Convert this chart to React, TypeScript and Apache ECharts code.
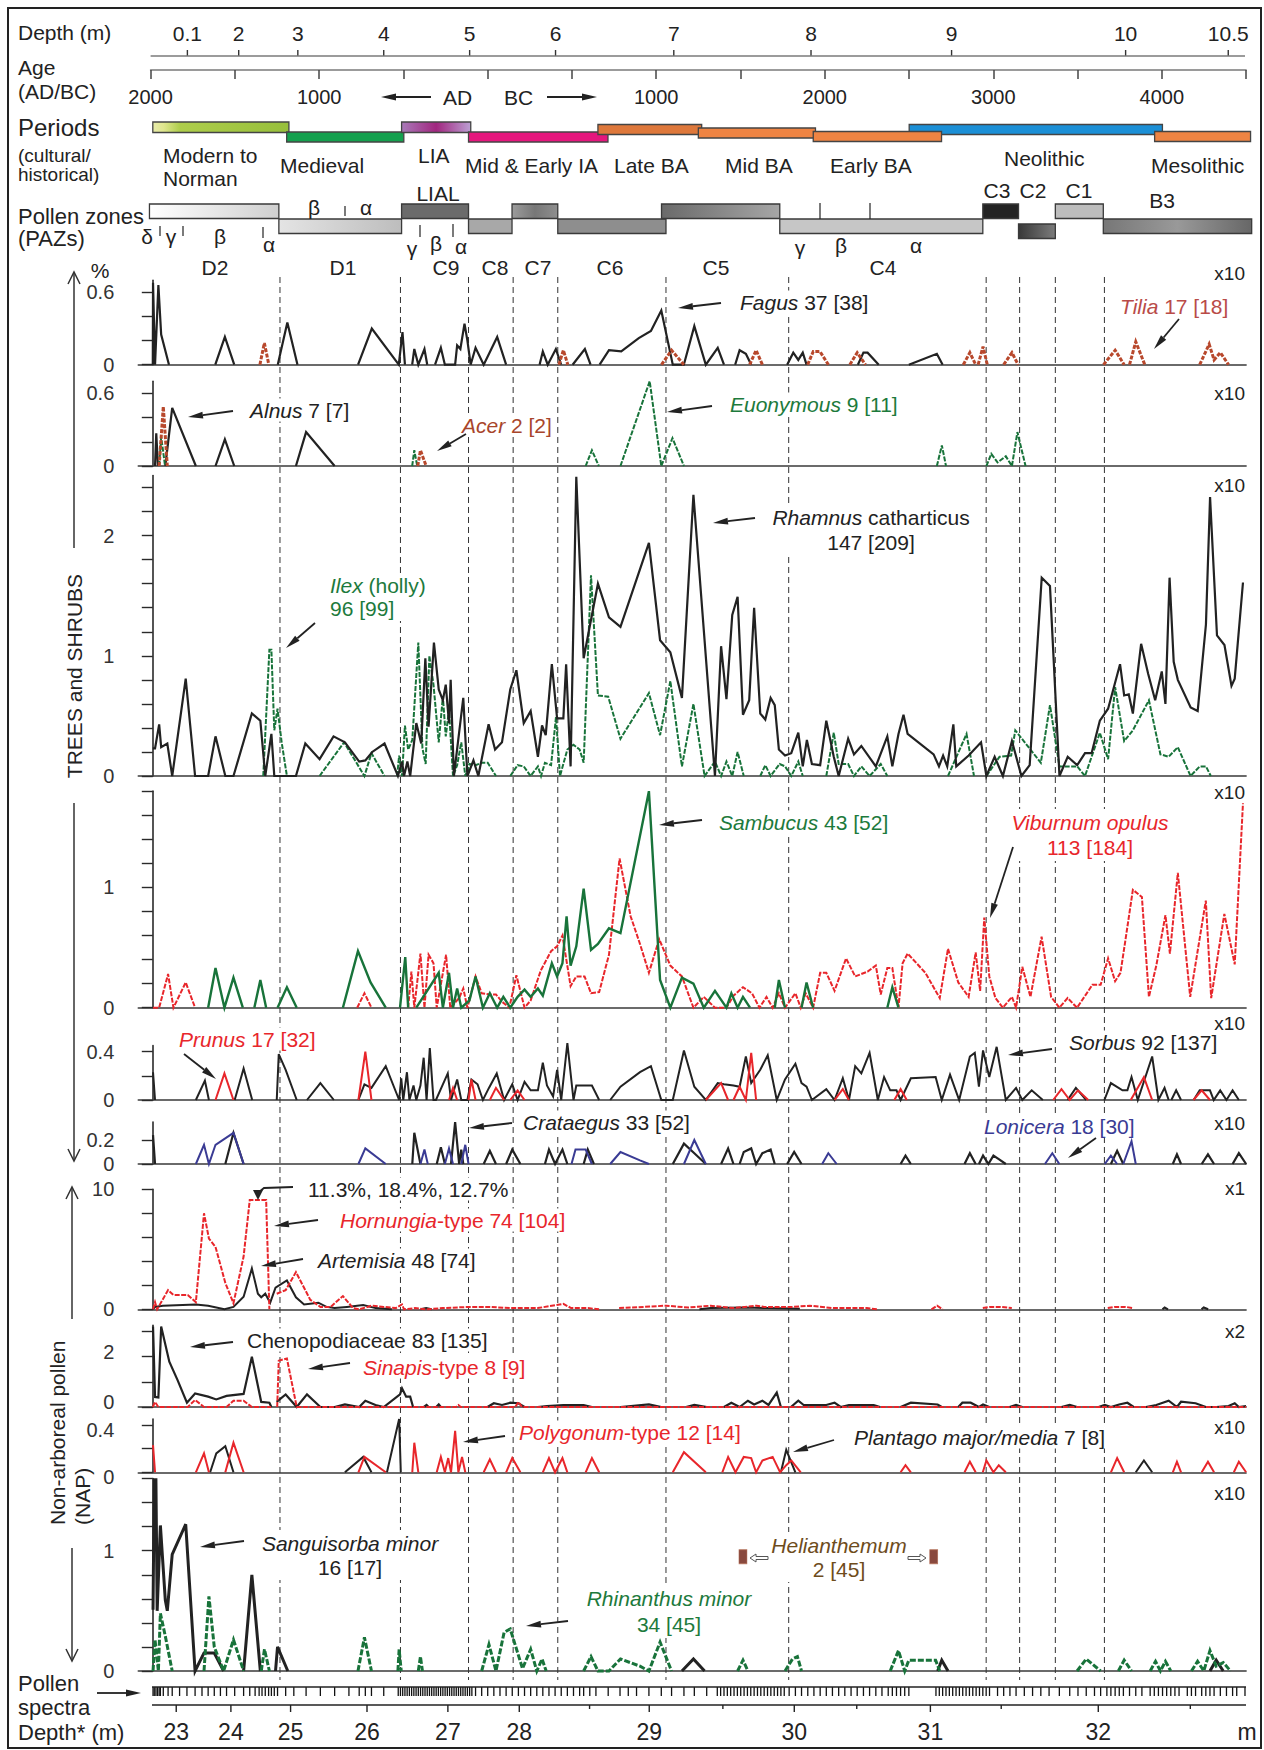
import React, { useEffect, useRef } from 'react';
import * as echarts from 'echarts';

type Pt = [number, number];
type Seg = Pt[];

const FONT = "'Liberation Sans', Arial, Helvetica, sans-serif";
const BLACK = '#222222';
const GREEN = '#18733a';
const GREEN_T = '#1d7a3c';
const RED = '#e8262b';
const BROWN = '#b8482c';
const BLUE = '#3a3b94';

// ---------------- DATA ----------------
// x values are positions along the (non-linear) Depth* axis of the diagram
const zoneBoundaries = [114, 222, 283, 323, 363, 460, 570, 747, 777, 809, 853];
const zoneNames = ['D2', 'D1', 'C9', 'C8', 'C7', 'C6', 'C5', 'C4', 'C3', 'C2', 'C1', 'B3'];
const zoneStart = [-3, 113, 223, 283, 322, 363, 456, 562, 744, 776, 809, 852];
const zoneEnd = [113, 223, 283, 322, 363, 460, 562, 744, 776, 809, 852, 985];

const periodNames = ['Modern to Norman', 'Medieval', 'LIA', 'Mid & Early IA', 'Late BA', 'Mid BA', 'Neolithic', 'Early BA', 'Mesolithic'];
const periodStart = [0, 120, 223, 283, 399, 489, 678, 592, 898];
const periodEnd = [122, 225, 285, 408, 492, 594, 905, 707, 984];

const topDepthLabels = ['0.1', '2', '3', '4', '5', '6', '7', '8', '9', '10', '10.5'];
const topDepthPos = [31, 77, 130, 207, 284, 361, 467, 590, 716, 872, 964];

const depthStarValues = [23, 24, 25, 26, 27, 28, 28.5, 29, 29.5, 30, 30.5, 31, 31.5, 32, 32.5];
const depthStarPos = [21, 70, 123.5, 192, 264.5, 328.5, 391.5, 445, 511, 575, 631, 697, 760.5, 847.5, 930];

const spectraPos = [
  0.2, 1.3, 2.8, 4.2, 5.7, 6.8, 9.4, 13.7, 17.4, 24, 30.6, 37.9, 44.1, 49.6, 55.1, 60.6, 66.1, 73.4, 81.4, 86.9,
  91.7, 95.3, 97.9, 100.8, 103.8, 106.3, 108.9, 111.8, 119.1, 126.4, 137.4, 150.2, 163, 175.8, 185, 190.5, 196, 207,
  220, 222, 224, 226, 228, 230, 232, 234, 236, 238, 240, 242, 244, 246, 248, 250, 252, 254, 256, 258, 260, 262, 264,
  266, 268, 270, 272, 274, 276, 278, 280, 282, 284, 286, 289.3, 294.8, 300.2, 305.7, 311.2, 316.7, 322.2, 327.7, 333.2,
  338.7, 344.2, 349.6, 355.1, 360.6, 366.1, 371.6, 377.1, 382.6, 386.2, 391.7, 397.2, 408.2, 418.8, 426.2, 433.6, 444.7,
  455.8, 465, 476.1, 485.4, 496.5, 506, 509, 512, 515, 518, 521, 524, 527, 530, 533, 536, 539, 542, 545, 548, 551, 554,
  557, 560, 563, 566, 570.4, 576, 581.5, 587.1, 592.6, 598.2, 603.7, 609.2, 614.8, 620.3, 625.9, 631.4, 637, 642.5,
  648.1, 653.6, 659.2, 662.9, 666.6, 670.3, 674, 677.7, 702, 705, 708, 711, 714, 717, 720, 723, 726, 729, 732, 735, 738,
  741, 744, 747, 750, 757.2, 762.7, 768.3, 773.8, 781.2, 788.6, 796, 803.4, 812.6, 821.9, 829.3, 836.7, 844.1, 849.6,
  855.2, 858.8, 862.6, 866.3, 870, 875.5, 881.1, 886.6, 894, 897.7, 901.4, 905.1, 908.8, 912.5, 916.2, 919.9, 927.3,
  931, 934.7, 940.2, 943.9, 947.6, 951.3, 956.9, 962.4, 967.9, 971.6, 979,
];

// Panel 1
const fagus: Seg[] = [
  [[0, 0], [0.2, 0.68], [2, 0], [5, 0.66], [7.5, 0.25], [14.5, 0]],
  [[56, 0], [64.6, 0.23], [73, 0]],
  [[112, 0], [120.6, 0.35], [129.7, 0]],
  [[184, 0], [196.3, 0.3], [220.5, 0], [223.8, 0.27], [226, 0]],
  [[232.5, 0], [234.4, 0.13], [238, 0], [243.5, 0.13], [246, 0]],
  [[253, 0], [258.2, 0.14], [261.8, 0], [271, 0], [272.8, 0.16], [275.7, 0.13], [279.4, 0.34], [282, 0.2], [284.9, 0], [289.3, 0.14], [296.6, 0], [308.7, 0.23], [316.7, 0]],
  [[346.7, 0], [349.6, 0.11], [354, 0], [361.3, 0.13], [366, 0]],
  [[376.3, 0], [387.3, 0.13], [392.4, 0]],
  [[400.5, 0], [408.9, 0.12], [419.9, 0.11], [435.6, 0.22], [446.5, 0.28], [455.8, 0.45], [466.1, 0], [476, 0], [485.4, 0.32], [495.7, 0], [506.4, 0.14], [512, 0]],
  [[522, 0], [526, 0.12], [531.6, 0.09], [536.4, 0]],
  [[568.6, 0], [574.1, 0.1], [578.6, 0.04], [582.6, 0.1], [586, 0]],
  [[632, 0], [637, 0.1], [640.7, 0.1], [650.7, 0]],
  [[677.7, 0], [702.8, 0.09], [708, 0]],
];
const tilia: Seg[] = [
  [[96, 0], [100, 0.18], [104, 0]],
  [[364, 0], [368, 0.12], [372, 0]],
  [[456, 0], [465, 0.12], [476, 0]],
  [[535, 0], [540.8, 0.12], [546.4, 0]],
  [[587, 0], [592, 0.11], [598, 0.11], [605.6, 0]],
  [[624.8, 0], [631.4, 0.1], [638.8, 0]],
  [[726.5, 0], [732.4, 0.1], [737.6, 0]],
  [[739.8, 0], [744.2, 0.15], [748, 0]],
  [[762.7, 0], [770.1, 0.1], [775.7, 0]],
  [[852.2, 0], [862.6, 0.12], [870.7, 0]],
  [[875.5, 0], [881.1, 0.19], [889.2, 0]],
  [[938.4, 0], [946.9, 0.17], [951.3, 0.04], [956.9, 0.1], [964.3, 0]],
];
// Panel 2
const alnus: Seg[] = [
  [[2, 0], [3.1, 0.27], [4.6, 0]],
  [[11.2, 0], [17.4, 0.48], [38.6, 0]],
  [[56.2, 0], [64.6, 0.22], [73, 0]],
  [[128.3, 0], [137.4, 0.28], [163, 0]],
];
const acer: Seg[] = [
  [[5.7, 0], [9.4, 0.49], [13, 0]],
  [[237.5, 0], [239.9, 0.13], [245, 0]],
];
const euonymous: Seg[] = [
  [[5.7, 0], [7.5, 0.24], [11, 0]],
  [[232.5, 0], [234.4, 0.13], [237, 0]],
  [[388, 0], [393.6, 0.13], [399.8, 0]],
  [[419.2, 0], [445.4, 0.7], [455.8, 0], [465.8, 0.23], [476.1, 0]],
  [[702.8, 0], [707.3, 0.17], [711, 0]],
  [[747.2, 0], [751.6, 0.1], [757.2, 0.03], [764.6, 0.08], [770.1, 0], [775, 0.28], [782.3, 0]],
];
// Panel 3
const rhamnus: Seg[] = [[
  [0, 0.23], [2, 0.23], [5.7, 0.43], [7.5, 0.24], [13, 0.27], [17.4, 0], [29.5, 0.81], [37.9, 0], [49.6, 0], [56.2, 0.33],
  [65, 0], [72.3, 0], [88.8, 0.52], [96.4, 0.46], [100.8, 0], [106.3, 0.35], [108.9, 0], [128.3, 0], [136.7, 0.27],
  [149.5, 0.14], [162, 0.33], [172.2, 0.28], [185, 0.12], [190.5, 0.13], [196.7, 0.2], [207.7, 0.27], [219.7, 0],
  [223.4, 0.12], [225.2, 0], [228.2, 0.12], [230.7, 0], [236.2, 0.44], [240.6, 0.27], [244.3, 0.98], [247.2, 0.41],
  [252, 1.11], [256.3, 0.72], [260, 0.63], [262.6, 0.76], [265.5, 0.44], [267, 0.8], [269.9, 0], [278.3, 0.65], [282, 0],
  [287.4, 0.13], [291.8, 0], [301, 0.43], [306.8, 0.22], [313, 0.28], [320.4, 0.72], [325.9, 0.88], [332.5, 0.44],
  [338.7, 0.54], [345.2, 0.16], [348.9, 0.42], [352.2, 0.34], [357.7, 0.93], [362.4, 0.48], [368, 0.48], [370.5, 0.93],
  [374.5, 0.08], [379.6, 2.49], [386.2, 0.98], [399, 1.6], [408.9, 1.32], [419.2, 1.24], [444.7, 1.94], [454.7, 1.13],
  [463.9, 1.03], [474.3, 0.65], [484.6, 2.34], [503.9, 0], [509.4, 1.08], [514.2, 0.64], [519.4, 1.34], [524.2, 1.49],
  [529, 0.51], [534.6, 0.63], [539, 1.4], [544.5, 0.52], [549, 0.47], [553.8, 0.65], [557.5, 0.59], [561.2, 0.22],
  [566.7, 0.17], [572.3, 0.19], [578.6, 0.36], [582.6, 0.08], [586.3, 0.3], [590.8, 0.1], [598.2, 0.09], [603.7, 0.46],
  [610.4, 0.16], [614.8, 0], [623.3, 0.31], [628.5, 0.18], [635.1, 0.25], [648.1, 0.08], [658.4, 0.33], [662.9, 0.08],
  [668.4, 0.35], [672.9, 0.51], [676.6, 0.35], [699.9, 0.18], [704.7, 0.08], [708.4, 0.17], [712.1, 0.08], [717.6, 0.43],
  [720.2, 0.08], [731.3, 0.17], [742.4, 0.28], [747.2, 0], [754.6, 0.16], [762, 0], [770.1, 0.29], [778.6, 0], [786, 0.09],
  [796.8, 1.65], [804.2, 1.58], [812.7, 0], [820.1, 0.16], [828.6, 0.09], [835.6, 0.19], [841.5, 0.19], [848.9, 0.46],
  [856.3, 0.56], [867, 0.93], [870.7, 0.67], [874.8, 0.68], [878.5, 0.52], [885.9, 1.1], [892.2, 0.85], [898.5, 0.63],
  [904.4, 0.87], [907.7, 0.6], [911.4, 1.65], [915.1, 0.95], [918.8, 0.8], [930.3, 0.57], [936.6, 0.54], [944, 1.26],
  [947.7, 2.32], [953.9, 1.17], [960.6, 1.09], [966.9, 0.75], [969.8, 0.81], [977.2, 1.61],
]];
const ilex: Seg[] = [
  [[99, 0], [104.5, 1.05], [106.3, 1.05], [108.9, 0.38], [111.8, 0.56], [115.5, 0.28], [120.2, 0]],
  [[149.5, 0], [171.5, 0.28], [189.7, 0], [196, 0.19], [207.7, 0]],
  [[219, 0], [220.8, 0.17], [223.4, 0], [226, 0.42], [228.9, 0.22], [232.6, 0.3], [238, 1.11], [241.7, 0.23], [244.6, 0.1],
    [247.9, 1.0], [251.6, 0.76], [256.3, 0.28], [260, 0.66], [262.6, 0.33], [265.5, 0.55], [269.1, 0], [272.8, 0.09],
    [276.5, 0.28], [280.1, 0], [283.8, 0.1], [289.3, 0.09], [294.8, 0.11], [300.2, 0.11], [307.6, 0]],
  [[320.4, 0], [327, 0.09], [332.5, 0.08], [338.7, 0], [345.2, 0.08], [348, 0], [351.5, 0.11], [357, 0.09], [361.4, 0.49],
    [365, 0], [371.6, 0.22], [377.1, 0.26], [382.6, 0.22], [386.2, 0.11], [392.8, 1.67], [399, 0.67], [408.2, 0.66],
    [419.2, 0.31], [444.7, 0.69], [454.7, 0.34], [463.9, 0.79], [474.3, 0.08], [484.6, 0.6], [494.6, 0], [503.9, 0.12],
    [509.4, 0], [514.2, 0.12], [519.4, 0], [524.2, 0.2], [529.7, 0]],
  [[544.5, 0], [549, 0.09], [553.8, 0], [561.9, 0.1], [566.7, 0.08], [572.3, 0], [578.6, 0.12], [582.6, 0]],
  [[603.7, 0], [610.4, 0.36], [614.8, 0.1], [623.3, 0.1], [628.5, 0], [635.1, 0.08], [642.5, 0], [652.5, 0.1], [658.4, 0]],
  [[712.8, 0], [729.4, 0.35], [736.1, 0]],
  [[747.2, 0], [759, 0.16], [769.4, 0.17], [773.1, 0.38], [796, 0.11], [804.2, 0.59], [812.7, 0.08], [828.6, 0.08],
    [835.6, 0], [848.9, 0.36], [856.3, 0.14], [862.6, 0.74], [870.7, 0.29], [878.5, 0.38], [892.9, 0.63], [903.2, 0.18],
    [910.6, 0.16], [918.8, 0.24], [930.2, 0], [938.4, 0.08], [944, 0.08], [948.4, 0]],
];
// Panel 4
const viburnum: Seg[] = [
  [[0.2, 0], [5.7, 0], [13.7, 0.28], [18.5, 0], [29.5, 0.21], [37.9, 0]],
  [[183.2, 0], [189.7, 0.12], [196, 0]],
  [[228.9, 0], [231.8, 0.3], [234.4, 0], [239.9, 0.45], [243.5, 0], [247.2, 0.44], [251.6, 0.37], [254.5, 0], [262.9, 0.44],
    [266.6, 0], [274.6, 0.08], [278.3, 0.16], [282, 0], [289.3, 0.26], [294.8, 0.12], [302.1, 0.11], [307.6, 0.11],
    [313, 0.05], [319.6, 0], [325.9, 0.27], [333.2, 0], [338.7, 0.06], [347.8, 0.31], [357, 0.47], [362.4, 0.51],
    [367.2, 0.6], [374.5, 0.18], [379.6, 0.26], [387, 0.26], [392.8, 0.12], [400.1, 0.13], [408.9, 0.44], [418.4, 1.24],
    [428.3, 0.76], [436.7, 0.53], [444.7, 0.29], [453.9, 0.57], [463.9, 0.35], [474.3, 0.26], [484.6, 0], [493.9, 0.09],
    [503.9, 0], [514.2, 0], [520.5, 0.1], [529, 0.17], [537.1, 0.12], [543.8, 0], [550.1, 0.09], [555.6, 0], [561.2, 0.12],
    [566.7, 0], [576, 0.12], [580.8, 0], [585.2, 0.12], [591.9, 0], [598.2, 0.29], [603.7, 0.29], [611.1, 0.14],
    [621.4, 0.41], [629.6, 0.26], [640.7, 0.3], [648.1, 0.35], [652.5, 0.11], [658.4, 0.33], [662.9, 0.33], [668.4, 0],
    [672.1, 0.37], [676.6, 0.45], [692.5, 0.29], [705.4, 0.08], [712.8, 0.49], [722, 0.21], [731.3, 0.09], [737.6, 0.46],
    [741.6, 0.14], [745.3, 0.75], [749.8, 0.26], [755.3, 0.08], [762, 0], [770.1, 0.09], [773.8, 0], [779.4, 0.34],
    [786.7, 0.09], [796.7, 0.59], [805.2, 0.09], [812.6, 0], [820, 0.08], [828.5, 0], [842.2, 0.19], [849.6, 0.19],
    [856.3, 0.41], [862.6, 0.22], [867.4, 0.29], [871.8, 0.56], [878.5, 0.98], [886.6, 0.92], [892.9, 0.09], [899.5, 0.35],
    [907.7, 0.77], [911.7, 0.45], [918.8, 1.12], [929.9, 0.09], [943.9, 0.89], [948.7, 0.08], [960.5, 0.78], [969.8, 0.36],
    [977.2, 1.7]],
];
const sambucus: Seg[] = [
  [[49.6, 0], [56.2, 0.33], [64.2, 0], [72.3, 0.25], [80.7, 0]],
  [[91, 0], [96.4, 0.23], [101.6, 0]],
  [[111.8, 0], [120.2, 0.17], [129, 0]],
  [[170.4, 0], [183.9, 0.47], [195.2, 0.21], [208.8, 0]],
  [[221.6, 0], [226.3, 0.42], [228.9, 0]],
  [[236.2, 0], [256.3, 0.29], [260, 0], [265.5, 0.29], [269.1, 0], [272.8, 0.16], [276.5, 0], [283.8, 0.06], [289.3, 0.26],
    [295.9, 0], [302.1, 0.12], [308.7, 0], [314.2, 0.09], [320.4, 0], [327, 0.09], [333.2, 0.15], [338.7, 0.09],
    [345.2, 0.16], [349.6, 0.1], [357.7, 0.37], [362.4, 0.26], [367.2, 0.37], [370.9, 0.76], [374.5, 0.35], [379.6, 0.51],
    [386.2, 0.99], [392.8, 0.48], [399, 0.53], [408.9, 0.66], [419.2, 0.62], [444.7, 1.8], [454.7, 0.23], [463.9, 0],
    [474.3, 0.25], [484.6, 0.2], [493.9, 0], [503.9, 0.14], [514.2, 0], [518.6, 0.12], [524.2, 0], [529, 0.09], [535.3, 0]],
  [[557.5, 0], [561.2, 0.23], [566.7, 0]],
  [[581.5, 0], [586, 0.21], [591.9, 0]],
  [[658.4, 0], [662.9, 0.17], [668.4, 0]],
];
// Panel 5
const sorbus: Seg[] = [
  [[0.2, 0.23], [2, 0]],
  [[38.6, 0], [46.7, 0.16], [50.3, 0]],
  [[73.4, 0], [81.4, 0.26], [89.1, 0]],
  [[111.1, 0], [112.9, 0.38], [119.1, 0.25], [129, 0]],
  [[138.2, 0], [150.2, 0.14], [162.3, 0]],
  [[184.3, 0], [189.7, 0.13], [196, 0.1], [208.8, 0.28], [220.8, 0], [222.7, 0.18], [224.5, 0], [227.8, 0.23], [230, 0],
    [233.7, 0.12], [236.2, 0], [239.9, 0.12], [242.8, 0.35], [245.4, 0], [248.3, 0.43], [251.6, 0], [253.8, 0],
    [264.4, 0.22], [267.3, 0], [272.8, 0.17], [276.5, 0], [282, 0], [285.6, 0.17], [291.1, 0.13], [295.9, 0], [301.3, 0.1],
    [308.3, 0.22], [314.9, 0], [322.2, 0.13], [327, 0], [333.2, 0.15], [338.7, 0.08], [345.2, 0.08], [349.6, 0.31],
    [353.3, 0.12], [358.8, 0.03], [362.4, 0.25], [366.1, 0], [371.6, 0.47], [377.1, 0], [379.6, 0.12], [393.6, 0.12],
    [400.1, 0]],
  [[410, 0], [419.2, 0.11], [436.7, 0.23], [446.5, 0.28], [455.8, 0], [466.1, 0], [476.1, 0.41], [485.4, 0.11], [495.7, 0],
    [506.4, 0.14], [512, 0.13], [520.5, 0.12], [526, 0.11], [531.6, 0.36], [536.4, 0.14], [544.5, 0.25], [551.2, 0.37],
    [559.3, 0], [566.7, 0.17], [576, 0.3], [581.5, 0.14], [586, 0.11], [590.8, 0], [603.7, 0.09], [611.1, 0],
    [618.5, 0.18], [624, 0], [629.6, 0.28], [635.1, 0.22], [642.5, 0.39], [649.9, 0], [655.5, 0.19], [661, 0.08],
    [666.6, 0.08], [670.3, 0], [679.5, 0.18], [701.7, 0.19], [707.2, 0], [714.6, 0.21], [722.8, 0], [732.4, 0.36],
    [736.8, 0.39], [740.5, 0.11], [744.2, 0.41], [749.8, 0.19], [756.4, 0.44], [764.6, 0], [773.8, 0.1], [779.4, 0],
    [787.8, 0.08], [797.8, 0]],
  [[820, 0], [827.4, 0.1], [836.7, 0]],
  [[853, 0], [858.8, 0.14], [869.2, 0.08], [873.6, 0.08], [877.3, 0.19], [882.9, 0], [895.8, 0.36], [901.4, 0], [906.9, 0.1], [910.6, 0]],
  [[913, 0], [917.3, 0.08], [921.7, 0]],
  [[933, 0], [938.4, 0.08], [947.6, 0.08], [951, 0], [956.8, 0.08], [962.4, 0], [967.9, 0.08], [973.5, 0]],
];
const prunus: Seg[] = [
  [[56.2, 0], [64.2, 0.22], [72.3, 0]],
  [[184.3, 0], [190.5, 0.4], [196, 0]],
  [[265.5, 0], [269.1, 0.1], [272.8, 0]],
  [[283, 0], [285.6, 0.17], [289.3, 0]],
  [[302.1, 0], [307.6, 0.1], [314.9, 0]],
  [[320.4, 0], [327, 0.08], [333.2, 0]],
  [[495.7, 0], [509.4, 0.14], [515.7, 0]],
  [[520.5, 0], [526, 0.11], [531.6, 0], [536.4, 0.39], [540.8, 0]],
  [[611.1, 0], [618.5, 0.09], [624, 0]],
  [[664.7, 0], [670.3, 0.09], [675.8, 0]],
  [[807.1, 0], [814.5, 0.09], [821.9, 0], [829.3, 0.08], [838.5, 0]],
  [[876.6, 0], [888.4, 0.19], [895.8, 0]],
  [[932.8, 0], [940.2, 0.08], [947.6, 0]],
];
// Panel 6
const crataegus: Seg[] = [
  [[0.2, 0.24], [2, 0]],
  [[65, 0], [72.3, 0.26], [81.4, 0]],
  [[232.6, 0], [234.4, 0.26], [239.9, 0]],
  [[254.5, 0], [258.2, 0.14], [261.8, 0]],
  [[267.3, 0], [271, 0.35], [274.6, 0], [276.5, 0.12], [278.3, 0]],
  [[296.6, 0], [302.1, 0.11], [307.6, 0]],
  [[316.7, 0], [322.2, 0.12], [329.5, 0]],
  [[351.5, 0], [355.1, 0.12], [360.6, 0], [367.2, 0.12], [371.6, 0]],
  [[386.2, 0], [389.9, 0.12], [395.4, 0]],
  [[466.1, 0], [476.1, 0.17], [485.4, 0.09], [495.7, 0]],
  [[509.4, 0], [515.7, 0.13], [520.5, 0]],
  [[526, 0], [529.7, 0.1], [536.4, 0.13], [540.8, 0], [546.4, 0.09], [553.8, 0.12], [557.5, 0]],
  [[568.6, 0], [574.9, 0.1], [581.5, 0]],
  [[670.3, 0], [674.7, 0.07], [679.5, 0]],
  [[727.6, 0], [732.4, 0.09], [737.6, 0]],
  [[740.5, 0], [744.2, 0.07], [749, 0], [753.5, 0.07], [758.3, 0.04], [764.6, 0]],
  [[858.8, 0], [864.4, 0.11], [869.9, 0]],
  [[914.3, 0], [918, 0.08], [921.7, 0]],
  [[940.2, 0], [945.8, 0.08], [951.3, 0]],
  [[967.9, 0], [973.5, 0.09], [980, 0]],
];
const lonicera: Seg[] = [
  [[38.6, 0], [45.9, 0.16], [50.3, 0], [56.2, 0.16], [72.3, 0.26], [81.4, 0]],
  [[184.3, 0], [190.5, 0.13], [208.8, 0]],
  [[239.9, 0], [243.5, 0.12], [246.5, 0]],
  [[261.8, 0], [265.5, 0.13], [269.1, 0]],
  [[276.5, 0], [280.1, 0.16], [283, 0]],
  [[375.3, 0], [378.9, 0.12], [388, 0.12], [393.6, 0]],
  [[410, 0], [419.2, 0.1], [436.7, 0.03], [444.7, 0]],
  [[476.1, 0], [485.4, 0.2], [495.7, 0]],
  [[600, 0], [605.5, 0.09], [613, 0]],
  [[799.7, 0], [806.3, 0.09], [812.6, 0]],
  [[853.3, 0], [858.8, 0.07], [864.4, 0]],
  [[869.9, 0], [877.3, 0.19], [881.1, 0]],
];
// Panel 7
const hornungia: Seg[] = [
  [[0.2, 0], [2, 0.6], [3.9, 0], [13.7, 1.6], [18.5, 1.2], [31.3, 1.2], [38.6, 0.6], [45.9, 8.0], [50.3, 5.9], [56.2, 5.2],
    [65, 2.2], [72.3, 0.5], [81.4, 4.4], [86.9, 9.1], [101.6, 9.1], [104.5, 0]],
  [[111.1, 1.3], [119.1, 1.6], [128.3, 3.1], [141.1, 0.8], [150.2, 0.2], [159.4, 0.2], [170.4, 1.1], [179.5, 0.1], [185, 0],
    [196, 0.3], [207, 0.2], [217.9, 0.1], [223.4, 0.4], [225.2, 0], [235, 0.1], [245, 0], [260, 0.1], [283.8, 0.2],
    [302, 0.2], [320, 0.1], [345, 0.1], [368, 0.45], [375, 0.1], [390, 0.1], [400, 0]],
  [[418, 0.1], [440, 0.2], [460, 0.3], [480, 0.15], [500, 0.3], [520, 0.1], [541, 0.3], [548, 0.2], [560, 0.2], [574, 0.2],
    [589, 0.3], [610, 0.1], [640, 0.1], [650, 0]],
  [[698, 0], [703, 0.3], [708, 0]],
  [[744, 0.1], [750, 0.2], [760, 0.2], [770, 0.1]],
  [[856, 0.1], [862, 0.2], [872, 0.2], [879, 0.1]],
];
const artemisia: Seg[] = [
  [[0.2, 0], [2, 0.2], [9, 0.3], [38.6, 0.4], [49.6, 0.3], [64.2, 0], [72.3, 0.2], [81.4, 1.05], [88.8, 3.4], [94.2, 1.3],
    [97.2, 1.0], [100.8, 1.3], [105.2, 0.55], [110, 1.8], [120.2, 2.4], [128.3, 1.0], [135.6, 0.4], [148.4, 0.55],
    [155.7, 0.2], [163, 0.1], [174, 0.2], [188.6, 0.35], [199.6, 0.1], [214.3, 0]],
  [[240, 0], [245, 0.1], [250, 0]],
  [[490, 0], [500, 0.1], [530, 0.15], [550, 0.1], [580, 0.05]],
  [[905, 0], [907, 0.15], [910, 0]],
  [[940, 0], [942, 0.15], [946, 0]],
];
// Panel 8
const chenopodiaceae: Seg[] = [
  [[0.2, 3.2], [2, 0.4], [5, 0.38], [7.5, 3.2], [14.8, 1.8], [22.2, 1.07], [30.6, 0.17], [37.9, 0.54], [49.6, 0.41],
    [56.9, 0.3], [66.1, 0.44], [81.4, 0.52], [88.8, 2.0], [97.2, 0.2], [104.5, 0.17], [106.3, 0]],
  [[111, 0.2], [119.1, 0.5], [129, 0], [138.2, 0.5], [150.2, 0], [163, 0], [172.2, 0.1], [185, 0], [190.5, 0.25],
    [199.6, 0.08], [207, 0], [221.6, 0.5], [223.4, 0.74], [227.1, 0.41], [230.7, 0.41], [233.3, 0]],
  [[243, 0], [245.4, 0.08], [247.2, 0]],
  [[254, 0], [256.3, 0.1], [258.2, 0]],
  [[300, 0], [305.7, 0.15], [313, 0.08], [320.4, 0.17], [327.7, 0.15], [333.2, 0]],
  [[345, 0], [353.3, 0.04], [368, 0.08], [386.2, 0.08], [393.6, 0]],
  [[419.2, 0], [444.7, 0.1], [455.8, 0]],
  [[478, 0], [485.4, 0.08], [496.5, 0]],
  [[512, 0], [518.6, 0.17], [526, 0], [533.4, 0.25], [539, 0.1], [546.4, 0.25], [551.9, 0.08], [559.3, 0.57], [563, 0]],
  [[572, 0], [578.6, 0.25], [583.4, 0.08], [603.7, 0.08], [611.1, 0.17], [616.6, 0], [624, 0.08], [646.2, 0.08], [651.8, 0]],
  [[670.3, 0], [679.5, 0.17], [703.5, 0.1], [707.2, 0]],
  [[722, 0], [725.7, 0.17], [733.1, 0.17], [740.5, 0], [744.2, 0.1], [749.8, 0]],
  [[768, 0], [773.8, 0.08], [779.4, 0]],
  [[814.5, 0], [821.9, 0.08], [828.5, 0]],
  [[847.8, 0], [853.3, 0.08], [858.8, 0], [866.2, 0.1], [873.6, 0.17], [879.2, 0]],
  [[890.3, 0], [899.5, 0.08], [910.6, 0.25], [918, 0], [921.7, 0.21], [934.7, 0.15], [943.9, 0], [953.2, 0], [964.3, 0.04],
    [969.8, 0.15], [973.5, 0], [980, 0.04]],
];
const sinapis: Seg[] = [
  [[0, 0], [2, 0.2], [5, 0], [31.3, 0], [37.9, 0.28], [45.9, 0], [66.1, 0], [72.3, 0.25], [81.4, 0.25], [88.8, 0], [106, 0]],
  [[111.5, 0], [112.9, 1.84], [120.2, 1.93], [129, 0], [272, 0], [274, 0.08], [276, 0], [325, 0], [327.7, 0.2], [331, 0], [980, 0]],
];
// Panel 9
const polygonum: Seg[] = [
  [[0.2, 0.23], [2, 0]],
  [[38.6, 0], [45.9, 0.16], [50.3, 0]],
  [[65, 0], [72.3, 0.25], [81.4, 0]],
  [[184.3, 0], [189.7, 0.13], [208.8, 0]],
  [[232.6, 0], [234.4, 0.25], [238, 0]],
  [[254.5, 0], [258.2, 0.13], [261.8, 0], [264.8, 0.12], [267.3, 0], [271, 0.35], [273.9, 0], [277.2, 0.13], [280.1, 0]],
  [[296.6, 0], [302.1, 0.11], [307.6, 0]],
  [[316.7, 0], [322.2, 0.12], [329.5, 0]],
  [[349.6, 0], [355.1, 0.12], [360.6, 0], [367.2, 0.12], [371.6, 0]],
  [[388, 0], [393.6, 0.12], [400.1, 0]],
  [[466.1, 0], [476.1, 0.17], [495.7, 0]],
  [[510.5, 0], [515.7, 0.13], [522.3, 0], [529.7, 0.13], [536.4, 0.12], [540.8, 0], [546.4, 0.1], [555.6, 0.13], [562.3, 0],
    [567.8, 0.06], [572.3, 0.1], [580.8, 0]],
  [[670.3, 0], [674.7, 0.06], [679.5, 0]],
  [[727.6, 0], [732.4, 0.09], [737.6, 0]],
  [[744, 0], [747.2, 0.1], [753.5, 0], [758.3, 0.06], [764.6, 0]],
  [[858.8, 0], [864.4, 0.12], [870.7, 0]],
  [[914.3, 0], [918, 0.09], [921.7, 0]],
  [[940.2, 0], [945.8, 0.09], [951.3, 0]],
  [[969, 0], [973.5, 0.09], [980, 0]],
];
const plantago: Seg[] = [
  [[51.4, 0], [56.9, 0.16], [65, 0.22], [72.3, 0]],
  [[172.2, 0], [188.6, 0.13], [196, 0]],
  [[209.9, 0], [220.8, 0.45], [222.3, 0]],
  [[563, 0], [567.8, 0.19], [576, 0]],
  [[881.1, 0], [888.4, 0.1], [895.8, 0]],
];
// Panel 10
const sanguisorba: Seg[] = [
  [[0.2, 0.51], [1.3, 1.59], [2.8, 1.59], [3.9, 0.5], [6.8, 1.21], [11.2, 0.59], [13, 0.5], [17.4, 0.97], [29.5, 1.22],
    [37.9, 0], [45.9, 0.15], [55.1, 0.15], [63.5, 0]],
  [[81.4, 0], [88.8, 0.8], [96.4, 0]],
  [[110, 0], [111.8, 0.2], [121, 0]],
  [[474.3, 0], [484.6, 0.1], [494.6, 0]],
  [[703.5, 0], [707.2, 0.09], [712.8, 0]],
  [[947.6, 0], [953.2, 0.09], [959.5, 0]],
];
const rhinanthus: Seg[] = [
  [[0.2, 0], [2, 0.26], [5, 0], [6.8, 0.48], [11.2, 0.29], [17.4, 0]],
  [[45.9, 0], [50.3, 0.62], [55.1, 0.2], [63.5, 0], [72.3, 0.26], [81.4, 0]],
  [[97.2, 0], [100.1, 0.18], [104.5, 0]],
  [[183.9, 0], [189.7, 0.28], [196, 0]],
  [[219.7, 0], [220.8, 0.18], [222.7, 0]],
  [[238, 0], [239.9, 0.12], [241.7, 0]],
  [[294.8, 0], [301.3, 0.22], [307.6, 0], [314.9, 0.32], [320.4, 0.35], [331.4, 0.02], [338.7, 0.18], [344.2, 0], [348.9, 0.1], [352.6, 0]],
  [[386.2, 0], [392.8, 0.12], [399, 0], [408.9, 0], [419.2, 0.1], [436.7, 0.04], [444.7, 0], [454.7, 0.24], [465, 0]],
  [[524.2, 0], [529, 0.09], [533.4, 0]],
  [[566.7, 0], [573.4, 0.1], [577.8, 0.12], [581.5, 0]],
  [[661, 0], [668.4, 0.17], [674, 0], [677.7, 0.09], [701.7, 0.09], [705.4, 0]],
  [[828.5, 0], [836.7, 0.1], [849.6, 0]],
  [[865.5, 0], [870.7, 0.09], [877.3, 0]],
  [[894, 0], [898.8, 0.08], [903.2, 0], [907.7, 0.08], [912.5, 0]],
  [[931, 0], [936.5, 0.08], [942.1, 0], [947.6, 0.17], [953.2, 0.04], [959.5, 0.07], [966.1, 0]],
];
const helianthemum: Pt[] = [[529, 0.95], [700, 0.95]];

// y-axis ticks / labels per panel
const panelMax = [0.7, 0.7, 2.5, 1.8, 0.45, 0.35, 10, 3.25, 0.45, 1.6];
const panelTicks = [
  [0, 0.2, 0.4, 0.6],
  [0, 0.2, 0.4, 0.6],
  [0, 0.2, 0.4, 0.6, 0.8, 1, 1.2, 1.4, 1.6, 1.8, 2, 2.2, 2.4],
  [0, 0.2, 0.4, 0.6, 0.8, 1, 1.2, 1.4, 1.6, 1.8],
  [0, 0.2, 0.4],
  [0, 0.2],
  [0, 2, 4, 6, 8, 10],
  [0, 1, 2, 3],
  [0, 0.2, 0.4],
  [0, 0.2, 0.4, 0.6, 0.8, 1, 1.2, 1.4, 1.6],
];
const panelLabels = [[0, 0.6], [0, 0.6], [0, 1, 2], [0, 1], [0, 0.4], [0, 0.2], [0, 10], [0, 2], [0, 0.4], [0, 1]];
const panelScale = ['x10', 'x10', 'x10', 'x10', 'x10', 'x10', 'x1', 'x2', 'x10', 'x10'];

// ---------------- LAYOUT ----------------
const GRID_LEFT = 138.3;
const GRID_RIGHT = 17.9;
const X_MIN = -13;
const X_MAX = 980;
const panelZero = [364.7, 466, 776, 1007.7, 1100, 1164, 1309.3, 1407, 1472.3, 1671];
const panelUnit = [120.6, 121.1, 120.2, 120.3, 120.8, 120, 12, 25.17, 118.3, 120.3];
const panelScaleY = [273, 393, 485, 792, 1023, 1123, 1188, 1331, 1427, 1493];
// vertical alignment of the y-axis labels (keeps the labels of stacked panels apart)
const panelLabelVAlign = ['middle', 'middle', 'middle', 'middle', 'middle', 'middle', 'middle', 'bottom', 'top', 'middle'];

const periodTop = [122, 132, 122, 132, 124.5, 128, 124.5, 131.5, 131.5];
const periodH = [10.5, 10, 10.5, 10, 10, 10, 10, 10, 10];
const zoneTop = [204, 219, 204, 219, 204, 219, 204, 219, 204, 224, 204, 219];
const zoneH = 14.5;

function grad(stops: [number, string][]) {
  return new echarts.graphic.LinearGradient(0, 0, 1, 0, stops.map(([offset, color]) => ({ offset, color })));
}

function toData(segs: Seg[]) {
  const out: any[] = [];
  segs.forEach((s, i) => {
    if (i) out.push([s[0][0], '-']);
    s.forEach((p) => out.push(p));
  });
  return out;
}

function lineSeries(p: number, segs: Seg[], color: string, width: number, dash?: number[]) {
  return {
    type: 'line',
    xAxisIndex: p + 1,
    yAxisIndex: p + 1,
    data: toData(segs),
    showSymbol: false,
    symbol: 'none',
    clip: false,
    silent: true,
    z: 3,
    lineStyle: { color, width, type: dash ? dash : 'solid', join: 'miter', cap: 'butt' },
  };
}

function txt(x: number, y: number, text: string, o: any = {}) {
  const size = o.size || 21;
  const color = o.color || BLACK;
  const align = o.align || 'left';
  const style: any = {
    text,
    fill: color,
    fontSize: size,
    fontFamily: FONT,
    fontStyle: o.italic ? 'italic' : 'normal',
    align,
    verticalAlign: 'middle',
    textAlign: align,
    textVerticalAlign: 'middle',
    rich: { i: { fontStyle: 'italic', fontSize: size, fontFamily: FONT, fill: color, color, lineHeight: o.lh } },
  };
  if (o.lh) style.lineHeight = o.lh;
  if (o.bg) {
    style.backgroundColor = '#ffffff';
    style.padding = [1, 3];
  }
  return { type: 'text', x, y, z: 60, rotation: o.rot || 0, style };
}

function arrow(x1: number, y1: number, x2: number, y2: number, color = '#222') {
  const ang = Math.atan2(y2 - y1, x2 - x1);
  const L = 15;
  const W = 3.4;
  const bx = x2 - L * Math.cos(ang);
  const by = y2 - L * Math.sin(ang);
  const px = -Math.sin(ang) * W;
  const py = Math.cos(ang) * W;
  return [
    { type: 'line', z: 61, shape: { x1, y1, x2: bx, y2: by }, style: { stroke: color, lineWidth: 1.8 } },
    { type: 'polygon', z: 61, shape: { points: [[x2, y2], [bx + px, by + py], [bx - px, by - py]] }, style: { fill: color } },
  ];
}

function vline(x: number, y1: number, y2: number, w = 1.2, color = '#222') {
  return { type: 'line', z: 61, shape: { x1: x, y1, x2: x, y2 }, style: { stroke: color, lineWidth: w } };
}

function buildOption() {
  const grids: any[] = [];
  const xAxes: any[] = [];
  const yAxes: any[] = [];
  const series: any[] = [];

  // grid 0 : overlay for header / footer / zone lines
  grids.push({ left: GRID_LEFT, right: GRID_RIGHT, top: 0, height: 1750 });
  xAxes.push({ gridIndex: 0, type: 'value', min: X_MIN, max: X_MAX, show: false });
  yAxes.push({ gridIndex: 0, type: 'value', min: 0, max: 1, show: false });

  // panels
  for (let p = 0; p < 10; p++) {
    const h = panelUnit[p] * panelMax[p];
    const va = panelLabelVAlign[p];
    grids.push({ left: GRID_LEFT, right: GRID_RIGHT, top: panelZero[p] - h, height: h });
    xAxes.push({
      gridIndex: p + 1, type: 'value', min: X_MIN, max: X_MAX,
      axisLine: { show: true, onZero: true, lineStyle: { color: '#3a3a3a', width: 1.6 } },
      axisTick: { show: false }, axisLabel: { show: false }, splitLine: { show: false },
    });
    yAxes.push({
      gridIndex: p + 1, type: 'value', min: 0, max: panelMax[p],
      axisLine: { show: true, onZero: true, lineStyle: { color: '#2a2a2a', width: 1.6 } },
      axisTick: { show: true, length: 11, customValues: panelTicks[p], lineStyle: { color: '#2a2a2a', width: 1.4 } },
      axisLabel: {
        show: true, customValues: panelLabels[p], fontSize: 20, color: '#333', fontFamily: FONT, margin: 24,
        verticalAlign: va, lineHeight: va === 'middle' ? 16 : 10,
      },
      splitLine: { show: false },
    });
  }

  // grid 11 : age axis
  grids.push({ left: 150.6, right: GRID_RIGHT, top: 69, height: 1 });
  xAxes.push({
    gridIndex: 11, type: 'value', min: -4500, max: 2000, interval: 500, inverse: true, position: 'bottom',
    axisLine: { show: true, onZero: false, lineStyle: { color: '#7a7a7a', width: 1.6 } },
    axisTick: { show: true, length: 9, lineStyle: { color: '#444', width: 1.5 } },
    axisLabel: {
      show: true, fontSize: 20, color: '#222', fontFamily: FONT, margin: 17, showMinLabel: true, showMaxLabel: true,
      formatter: (v: number) => (v !== 0 && v % 1000 === 0 ? String(Math.abs(v)) : ''),
    },
    splitLine: { show: false },
  });
  yAxes.push({ gridIndex: 11, type: 'value', min: 0, max: 1, show: false });

  // zone boundary dashed lines
  series.push({
    type: 'custom', xAxisIndex: 0, yAxisIndex: 0, z: 1, silent: true,
    data: zoneBoundaries.map((v) => [v, 0]),
    renderItem: (params: any, api: any) => {
      const x = api.coord([api.value(0), 0])[0];
      return { type: 'line', shape: { x1: x, y1: 277, x2: x, y2: 1680 }, style: { stroke: '#333', lineWidth: 1, lineDash: [6, 4] } };
    },
  });

  // periods
  const periodFill = [
    grad([[0, '#e8ecaa'], [0.08, '#dfe68e'], [0.2, '#aecd4b'], [1, '#97bf3b']]),
    '#14a04e',
    grad([[0, '#a97ab9'], [0.5, '#a1267f'], [1, '#bc9fd3']]),
    '#e5177d',
    '#de783b',
    '#ee8443',
    '#1b8fd6',
    '#ee8443',
    '#ee8443',
  ];
  series.push({
    type: 'custom', xAxisIndex: 0, yAxisIndex: 0, z: 2, silent: true,
    data: periodStart.map((s, i) => [s, periodEnd[i]]),
    renderItem: (params: any, api: any) => {
      const i = params.dataIndex;
      const x0 = api.coord([api.value(0), 0])[0];
      const x1 = api.coord([api.value(1), 0])[0];
      return {
        type: 'rect', shape: { x: x0, y: periodTop[i], width: x1 - x0, height: periodH[i] },
        style: { fill: periodFill[i], stroke: '#444', lineWidth: 1.3 },
      };
    },
  });

  // pollen zones
  const zoneFill = [
    grad([[0, '#ffffff'], [1, '#cfcfcf']]),
    grad([[0, '#e4e4e4'], [1, '#bdbdbd']]),
    '#6b6b6b',
    '#a8a8a8',
    grad([[0, '#9c9c9c'], [0.5, '#777777'], [1, '#8f8f8f']]),
    '#8e8e8e',
    grad([[0, '#6a6a6a'], [1, '#a6a6a6']]),
    '#c6c6c6',
    '#232323',
    grad([[0, '#383838'], [1, '#7c7c7c']]),
    '#bdbdbd',
    grad([[0, '#777777'], [0.5, '#999999'], [1, '#676767']]),
  ];
  series.push({
    type: 'custom', xAxisIndex: 0, yAxisIndex: 0, z: 2, silent: true,
    data: zoneStart.map((s, i) => [s, zoneEnd[i]]),
    renderItem: (params: any, api: any) => {
      const i = params.dataIndex;
      const x0 = api.coord([api.value(0), 0])[0];
      const x1 = api.coord([api.value(1), 0])[0];
      return {
        type: 'rect', shape: { x: x0, y: zoneTop[i], width: x1 - x0, height: zoneH },
        style: { fill: zoneFill[i], stroke: '#3a3a3a', lineWidth: 1.3 },
      };
    },
  });

  // top depth (m) ticks + labels
  series.push({
    type: 'custom', xAxisIndex: 0, yAxisIndex: 0, z: 2, silent: true,
    data: topDepthPos.map((v) => [v, 0]),
    renderItem: (params: any, api: any) => {
      const x = api.coord([api.value(0), 0])[0];
      return {
        type: 'group',
        children: [
          { type: 'line', shape: { x1: x, y1: 50, x2: x, y2: 56 }, style: { stroke: '#333', lineWidth: 1.4 } },
          {
            type: 'text', x, y: 33,
            style: { text: topDepthLabels[params.dataIndex], fontSize: 21, fontFamily: FONT, fill: '#222', align: 'center', verticalAlign: 'middle', textAlign: 'center', textVerticalAlign: 'middle' },
          },
        ],
      };
    },
  });

  // pollen spectra ticks
  series.push({
    type: 'custom', xAxisIndex: 0, yAxisIndex: 0, z: 2, silent: true,
    data: spectraPos.map((v) => [v, 0]),
    renderItem: (params: any, api: any) => {
      const x = api.coord([api.value(0), 0])[0];
      return { type: 'line', shape: { x1: x, y1: 1687, x2: x, y2: 1696 }, style: { stroke: '#111', lineWidth: 1.3 } };
    },
  });

  // bottom Depth* axis ticks + labels
  series.push({
    type: 'custom', xAxisIndex: 0, yAxisIndex: 0, z: 2, silent: true,
    data: depthStarPos.map((v) => [v, 0]),
    renderItem: (params: any, api: any) => {
      const x = api.coord([api.value(0), 0])[0];
      const v = depthStarValues[params.dataIndex];
      const major = Math.round(v) === v;
      const children: any[] = [
        { type: 'line', shape: { x1: x, y1: 1705, x2: x, y2: major ? 1712 : 1709 }, style: { stroke: '#222', lineWidth: 1.4 } },
      ];
      if (major) {
        children.push({
          type: 'text', x, y: 1732,
          style: { text: String(v), fontSize: 23, fontFamily: FONT, fill: '#222', align: 'center', verticalAlign: 'middle', textAlign: 'center', textVerticalAlign: 'middle' },
        });
      }
      return { type: 'group', children };
    },
  });

  // data series
  series.push(lineSeries(0, fagus, BLACK, 2.2));
  series.push(lineSeries(0, tilia, BROWN, 3, [4, 1.5]));
  series.push(lineSeries(1, alnus, BLACK, 2.2));
  series.push(lineSeries(1, euonymous, GREEN, 2, [5, 1.5]));
  series.push(lineSeries(1, acer, BROWN, 3, [4, 1.5]));
  series.push(lineSeries(2, ilex, GREEN, 2, [5, 1.5]));
  series.push(lineSeries(2, rhamnus, BLACK, 2.2));
  series.push(lineSeries(3, viburnum, RED, 2, [5, 1.5]));
  series.push(lineSeries(3, sambucus, GREEN, 2.4));
  series.push(lineSeries(4, sorbus, BLACK, 2));
  series.push(lineSeries(4, prunus, RED, 2));
  series.push(lineSeries(5, crataegus, BLACK, 2.2));
  series.push(lineSeries(5, lonicera, BLUE, 2));
  series.push(lineSeries(6, artemisia, BLACK, 2));
  series.push(lineSeries(6, hornungia, RED, 2, [5, 1.5]));
  series.push(lineSeries(7, chenopodiaceae, BLACK, 2.2));
  series.push(lineSeries(7, sinapis, RED, 2, [5, 1.5]));
  series.push(lineSeries(8, plantago, BLACK, 2));
  series.push(lineSeries(8, polygonum, RED, 2));
  series.push(lineSeries(9, sanguisorba, BLACK, 3));
  series.push(lineSeries(9, rhinanthus, GREEN, 3, [6, 2]));
  series.push({
    type: 'scatter', xAxisIndex: 10, yAxisIndex: 10, data: helianthemum, symbol: 'rect', symbolSize: [8, 14], z: 4, silent: true,
    itemStyle: { color: '#6b1b0e', borderColor: '#b36a50', borderWidth: 0.8 },
  });

  // ---------------- graphics ----------------
  const g: any[] = [];
  // frame
  g.push({ type: 'rect', z: 70, shape: { x: 8, y: 8, width: 1253, height: 1740 }, style: { fill: 'none', stroke: '#222', lineWidth: 2 } });
  // header
  g.push(txt(18, 32, 'Depth (m)'));
  g.push({ type: 'line', z: 61, shape: { x1: 150.6, y1: 56, x2: 1245, y2: 56 }, style: { stroke: '#7a7a7a', lineWidth: 1.6 } });
  g.push(txt(18, 67, 'Age'));
  g.push(txt(18, 91, '(AD/BC)'));
  g.push(...arrow(431, 97, 381, 97));
  g.push(txt(443, 97, 'AD'));
  g.push(txt(504, 97, 'BC'));
  g.push(...arrow(547, 97, 597, 97));
  g.push(txt(18, 127, 'Periods', { size: 24 }));
  g.push(txt(18, 155, '(cultural/', { size: 19 }));
  g.push(txt(18, 174, 'historical)', { size: 19 }));
  g.push(txt(163, 155, 'Modern to'));
  g.push(txt(163, 178, 'Norman'));
  g.push(txt(280, 165, 'Medieval'));
  g.push(txt(418, 155, 'LIA'));
  g.push(txt(465, 165, 'Mid & Early IA'));
  g.push(txt(614, 165, 'Late BA'));
  g.push(txt(725, 165, 'Mid BA'));
  g.push(txt(830, 165, 'Early BA'));
  g.push(txt(1004, 158, 'Neolithic'));
  g.push(txt(1151, 165, 'Mesolithic'));
  g.push(txt(18, 216, 'Pollen zones', { size: 22 }));
  g.push(txt(18, 238, '(PAZs)', { size: 22 }));
  // sub-zone letters
  g.push(txt(314, 207, 'β', { align: 'center' }));
  g.push(vline(345, 206, 216));
  g.push(txt(366, 207, 'α', { align: 'center' }));
  g.push(txt(147, 236, 'δ', { align: 'center' }));
  g.push(vline(160, 226, 236));
  g.push(txt(171, 236, 'γ', { align: 'center' }));
  g.push(vline(183, 226, 236));
  g.push(txt(220, 236, 'β', { align: 'center' }));
  g.push(vline(263, 227, 238));
  g.push(txt(269, 244, 'α', { align: 'center' }));
  g.push(txt(438, 193, 'LIAL', { align: 'center' }));
  g.push(vline(420, 225, 237));
  g.push(txt(412, 248, 'γ', { align: 'center' }));
  g.push(txt(436, 243, 'β', { align: 'center' }));
  g.push(vline(453, 224, 237));
  g.push(txt(461, 246, 'α', { align: 'center' }));
  g.push(vline(820, 203, 219));
  g.push(vline(870, 203, 219));
  g.push(txt(800, 247, 'γ', { align: 'center' }));
  g.push(txt(841, 245, 'β', { align: 'center' }));
  g.push(txt(916, 245, 'α', { align: 'center' }));
  g.push(txt(997, 190, 'C3', { align: 'center' }));
  g.push(txt(1033, 190, 'C2', { align: 'center' }));
  g.push(txt(1079, 190, 'C1', { align: 'center' }));
  g.push(txt(1162, 200, 'B3', { align: 'center' }));
  const zoneLabelX = [215, 343, 446, 495, 538, 610, 716, 883];
  zoneLabelX.forEach((x, i) => g.push(txt(x, 267, zoneNames[i], { align: 'center' })));
  g.push(txt(100, 270, '%', { align: 'center' }));
  // scale labels
  panelScaleY.forEach((y, i) => g.push(txt(1245, y, panelScale[i], { align: 'right', size: 19 })));

  // left vertical annotations
  g.push(vline(74, 273, 548, 1.5, '#333'));
  g.push({ type: 'polyline', z: 61, shape: { points: [[68, 284], [74, 272], [80, 284]] }, style: { stroke: '#333', lineWidth: 1.5, fill: 'none' } });
  g.push(vline(74, 803, 1160, 1.5, '#333'));
  g.push({ type: 'polyline', z: 61, shape: { points: [[68, 1149], [74, 1161], [80, 1149]] }, style: { stroke: '#333', lineWidth: 1.5, fill: 'none' } });
  g.push(txt(74, 676, 'TREES and SHRUBS', { align: 'center', rot: Math.PI / 2 }));
  g.push(vline(72, 1188, 1319, 1.5, '#333'));
  g.push({ type: 'polyline', z: 61, shape: { points: [[66, 1199], [72, 1187], [78, 1199]] }, style: { stroke: '#333', lineWidth: 1.5, fill: 'none' } });
  g.push(vline(72, 1548, 1660, 1.5, '#333'));
  g.push({ type: 'polyline', z: 61, shape: { points: [[66, 1649], [72, 1661], [78, 1649]] }, style: { stroke: '#333', lineWidth: 1.5, fill: 'none' } });
  g.push(txt(57, 1525, 'Non-arboreal pollen', { align: 'left', rot: Math.PI / 2 }));
  g.push(txt(82, 1525, '(NAP)', { align: 'left', rot: Math.PI / 2 }));

  // taxon labels
  g.push(txt(737, 302, '{i|Fagus} 37 [38]', { bg: true }));
  g.push(...arrow(721, 303, 678, 308));
  g.push(txt(1117, 306, '{i|Tilia} 17 [18]', { color: '#b94b48', bg: true }));
  g.push(...arrow(1179, 319, 1154, 349));
  g.push(txt(247, 410, '{i|Alnus} 7 [7]', { bg: true }));
  g.push(...arrow(233, 411, 188, 417));
  g.push(txt(459, 425, '{i|Acer} 2 [2]', { color: '#a8452b', bg: true }));
  g.push(...arrow(466, 434, 437, 451));
  g.push(txt(727, 404, '{i|Euonymous} 9 [11]', { color: GREEN_T, bg: true }));
  g.push(...arrow(712, 406, 667, 412));
  g.push(txt(327, 597, '{i|Ilex} (holly)\n96 [99]', { color: GREEN_T, bg: true, lh: 23 }));
  g.push(...arrow(315, 623, 286, 648));
  g.push(txt(871, 530, '{i|Rhamnus} catharticus\n147 [209]', { align: 'center', bg: true, lh: 25 }));
  g.push(...arrow(755, 518, 713, 523));
  g.push(txt(716, 822, '{i|Sambucus} 43 [52]', { color: GREEN_T, bg: true }));
  g.push(...arrow(702, 820, 659, 825));
  g.push(txt(1090, 835, '{i|Viburnum opulus}\n113 [184]', { color: RED, align: 'center', bg: true, lh: 25 }));
  g.push(...arrow(1013, 847, 990, 918));
  g.push(txt(176, 1039, '{i|Prunus} 17 [32]', { color: RED, bg: true }));
  g.push(...arrow(184, 1054, 216, 1079));
  g.push(txt(1066, 1042, '{i|Sorbus} 92 [137]', { bg: true }));
  g.push(...arrow(1052, 1049, 1008, 1055));
  g.push(txt(520, 1122, '{i|Crataegus} 33 [52]', { bg: true }));
  g.push(...arrow(512, 1123, 469, 1128));
  g.push(txt(981, 1126, '{i|Lonicera} 18 [30]', { color: BLUE, bg: true }));
  g.push(...arrow(1096, 1138, 1068, 1158));
  g.push(txt(305, 1189, '11.3%, 18.4%, 12.7%', { bg: true }));
  g.push({ type: 'polyline', z: 61, shape: { points: [[293, 1187], [264, 1188], [259, 1192]] }, style: { stroke: '#222', lineWidth: 1.8, fill: 'none' } });
  g.push({ type: 'polygon', z: 61, shape: { points: [[258, 1200], [253, 1190], [263, 1190]] }, style: { fill: '#222' } });
  g.push(txt(337, 1220, '{i|Hornungia}-type 74 [104]', { color: RED, bg: true }));
  g.push(...arrow(318, 1220, 274, 1226));
  g.push(txt(315, 1260, '{i|Artemisia} 48 [74]', { bg: true }));
  g.push(...arrow(303, 1259, 261, 1266));
  g.push(txt(244, 1340, 'Chenopodiaceae 83 [135]', { bg: true }));
  g.push(...arrow(233, 1342, 190, 1347));
  g.push(txt(360, 1367, '{i|Sinapis}-type 8 [9]', { color: RED, bg: true }));
  g.push(...arrow(350, 1363, 308, 1369));
  g.push(txt(516, 1432, '{i|Polygonum}-type 12 [14]', { color: RED, bg: true }));
  g.push(...arrow(505, 1436, 463, 1442));
  g.push(txt(851, 1437, '{i|Plantago major/media} 7 [8]', { bg: true }));
  g.push(...arrow(834, 1440, 793, 1452));
  g.push(txt(350, 1555, '{i|Sanguisorba minor}\n16 [17]', { align: 'center', bg: true, lh: 24 }));
  g.push(...arrow(244, 1541, 200, 1547));
  g.push(txt(669, 1611, '{i|Rhinanthus minor}\n34 [45]', { color: GREEN_T, align: 'center', bg: true, lh: 26 }));
  g.push(...arrow(568, 1621, 526, 1626));
  g.push(txt(839, 1557, '{i|Helianthemum}\n2 [45]', { color: '#6e4c1c', align: 'center', bg: true, lh: 24 }));
  g.push({ type: 'polygon', z: 61, shape: { points: [[750, 1558], [756, 1554], [756, 1556.5], [768, 1556.5], [768, 1559.5], [756, 1559.5], [756, 1562]] }, style: { fill: '#fff', stroke: '#555', lineWidth: 1 } });
  g.push({ type: 'polygon', z: 61, shape: { points: [[926, 1558], [920, 1554], [920, 1556.5], [908, 1556.5], [908, 1559.5], [920, 1559.5], [920, 1562]] }, style: { fill: '#fff', stroke: '#555', lineWidth: 1 } });

  // footer
  g.push({ type: 'line', z: 61, shape: { x1: 152, y1: 1687, x2: 1246, y2: 1687 }, style: { stroke: '#222', lineWidth: 1.3 } });
  g.push({ type: 'line', z: 61, shape: { x1: 152, y1: 1705, x2: 1246, y2: 1705 }, style: { stroke: '#222', lineWidth: 1.3 } });
  g.push(txt(18, 1683, 'Pollen', { size: 22 }));
  g.push(txt(18, 1707, 'spectra', { size: 22 }));
  g.push(...arrow(97, 1693, 141, 1693));
  g.push(txt(18, 1732, 'Depth* (m)', { size: 22 }));
  g.push(txt(1247, 1732, 'm', { size: 23, align: 'center' }));

  return {
    animation: false,
    backgroundColor: '#ffffff',
    textStyle: { fontFamily: FONT },
    grid: grids,
    xAxis: xAxes,
    yAxis: yAxes,
    series,
    graphic: { elements: g },
  };
}

export default function App() {
  const ref = useRef<HTMLDivElement>(null);
  useEffect(() => {
    if (!ref.current) return;
    const chart = echarts.init(ref.current, undefined, { renderer: 'svg' });
    chart.setOption(buildOption() as any);
    return () => chart.dispose();
  }, []);
  return (
    <div
      ref={ref}
      style={{ position: 'absolute', left: 0, top: 0, width: 1264, height: 1750, background: '#ffffff' }}
    />
  );
}
